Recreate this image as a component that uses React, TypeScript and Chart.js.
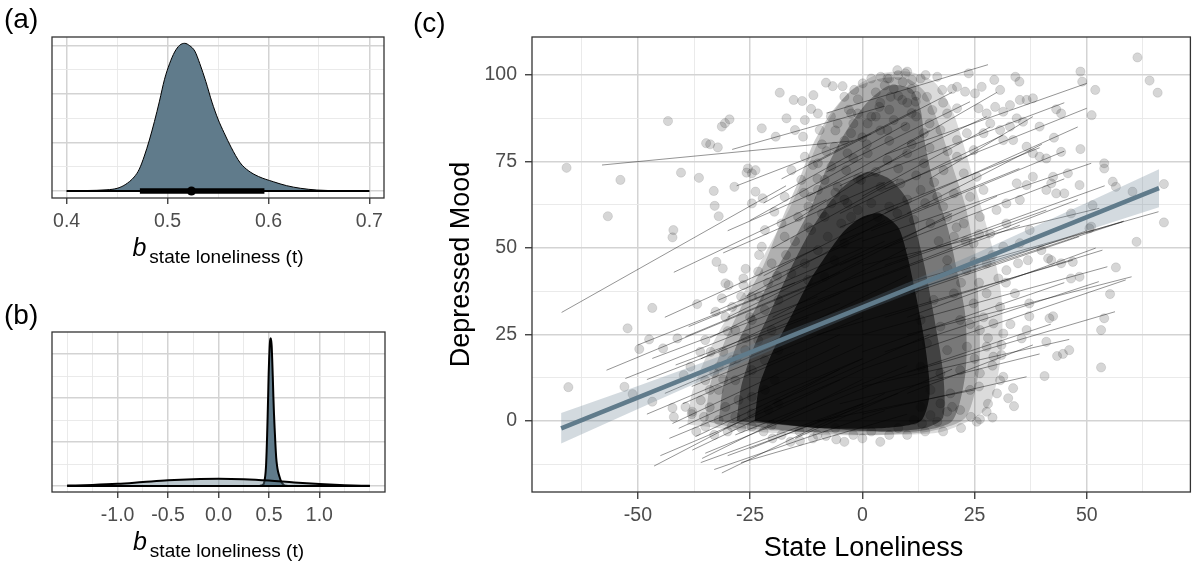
import React, { useEffect, useRef } from "react";
import { Chart, registerables } from "chart.js";

Chart.register(...registerables);

const W = 1196;
const H = 565;
const FONT = "'Liberation Sans', Arial, Helvetica, sans-serif";
const SLATE = "#607B8B";
const SUB = "state loneliness (t)";

// ---------------- Panel (a): posterior of b ----------------
const postX = [0.4, 0.42, 0.44, 0.45, 0.458, 0.467, 0.472, 0.477, 0.482, 0.487, 0.492, 0.497, 0.502, 0.507, 0.512, 0.517, 0.522, 0.527, 0.532, 0.538, 0.544, 0.55, 0.556, 0.563, 0.572, 0.58, 0.59, 0.605, 0.618, 0.632, 0.648, 0.67, 0.7];
const postY = [0, 0.01, 0.025, 0.055, 0.13, 0.29, 0.45, 0.72, 1.05, 1.43, 1.85, 2.3, 2.62, 2.86, 3.0, 3.04, 2.99, 2.88, 2.62, 2.25, 1.83, 1.48, 1.2, 0.9, 0.58, 0.42, 0.3, 0.19, 0.11, 0.055, 0.02, 0.006, 0];
const intervalThin = [0.4, 0.7];
const intervalThick = [0.4726, 0.596];
const pointEstimate = 0.5237;
const aMajorX = [0.4, 0.5, 0.6, 0.7];
const aMinorX = [0.45, 0.55, 0.65];
const aMajorY = [0, 1, 2, 3];
const aMinorY = [0.5, 1.5, 2.5];

// ---------------- Panel (b): prior vs posterior ----------------
const priorX = [-1.5, -1.25, -1.0, -0.75, -0.5, -0.25, 0, 0.25, 0.5, 0.75, 1.0, 1.25, 1.5];
const priorY = [0.02, 0.05, 0.1, 0.18, 0.26, 0.31, 0.33, 0.31, 0.25, 0.16, 0.09, 0.04, 0.01];
const spikeX = [0.4, 0.42, 0.44, 0.45, 0.458, 0.467, 0.472, 0.477, 0.482, 0.487, 0.492, 0.497, 0.502, 0.507, 0.512, 0.517, 0.522, 0.527, 0.532, 0.538, 0.544, 0.55, 0.556, 0.563, 0.572, 0.58, 0.59, 0.605, 0.618, 0.632, 0.648, 0.67, 0.7];
const spikeY = [0, 0.022, 0.055, 0.12, 0.29, 0.64, 0.99, 1.59, 2.32, 3.16, 4.09, 5.08, 5.79, 6.32, 6.63, 6.72, 6.61, 6.36, 5.79, 4.97, 4.04, 3.27, 2.65, 1.99, 1.28, 0.93, 0.66, 0.42, 0.24, 0.12, 0.044, 0.013, 0];
const priorBase = [-1.5, 1.5];
const bMajorX = [-1.0, -0.5, 0, 0.5, 1.0];
const bMinorX = [-1.5, -1.25, -0.75, -0.25, 0.25, 0.75, 1.25, 1.5];
const bMajorY = [0, 2, 4, 6];
const bMinorY = [1, 3, 5];

// ---------------- Panel (c): scatter ----------------
const cMajorX = [-50, -25, 0, 25, 50];
const cMinorX = [-62.5, -37.5, -12.5, 12.5, 37.5, 62.5];
const cMajorY = [0, 25, 50, 75, 100];
const cMinorY = [-12.5, 12.5, 37.5, 62.5, 87.5];

// observed points (person-centred state loneliness, depressed mood)
const ptX = [
  -65.9, -53.9, -56.7, -43.3, -42.1, -42.3, -40.4, -36.4, -34.8, -33.9, -32.2, -33.1, -32.9, -32.0, -31.3, -30.6, -29.6, -32.5, -31.1, -28.5,
  -25.5, -23.8, -25.8, -23.8, -22.2, -24.6, -22.4, -18.4, -19.3, -16.9, -15.3, -13.4, -10.9, -8.1, -6.6, -4.4, -11.4, -9.9, -12.8, -15.0,
  -13.2, -9.5, -19.6, -18.0, -21.7, -20.2, -22.4, -23.2, -26.5, -30.5, -13.6, -9.9, -12.8, -15.8, -11.4, -17.3, -17.3, -14.3, -24.6,
  -46.8, -52.3, -47.5, -49.7, -41.2, -44.4, -36.8, -53.0, -51.2, -46.8, -42.3, -42.0, -13.9, -8.1, -5.8, -32.7, -31.3, -29.8, -26.5, -24.6,
  -35.0, -33.8, -36.1, -38.3, -39.8, -39.4, -37.9, -35.3, -35.0, -65.5,
  -30.5, -28.3, -24.6, -21.7, -18.7, -20.2, -23.2, -26.1, -29.1, -32.0, -35.0, -32.0, -28.3, -24.6, -21.7, -18.7, -30.5, -27.6, -24.6, -21.7,
  -19.5, -32.0, -28.3, -24.6, -20.9, -18.7, -29.1, -24.6, -20.2,
  -4.0, -2.5, -5.5, -2.5, -6.2, -3.3, -6.9, -3.6, -5.5, -8.4, -9.9, -6.9, -3.3, -8.4, -4.7, -2.5, -11.4, -7.7, -4.0, -9.9, -6.2, -12.8, -15.8, -12.1, -8.4,
  0.1, 4.1, 5.6, 7.8, 9.6, 11.1, 14.1, 16.7, 17.8, 14.4, 11.9, 6.3, 8.9, 3.8, -1.8, -1.0, 1.2, 15.6, 18.9, 21.1, 5.6, 9.6, 13.7, 17.4, 21.1,
  23.3, 24.8, 21.1, 1.2, 5.6, 10.0, 13.7, 18.1, 22.6, 25.5, -0.3, 4.1, 8.5, 13.0, 16.7, 20.4, 24.0, 27.0, -1.0, 3.4, 7.8, 11.5, 15.2, 18.9,
  22.6, 26.2, 29.9, 32.1, 20.4, 24.8, 28.5, 31.4, 35.1, 27.7, 23.2, 18.9,
  61.3, 64.0, 65.8, 48.6, 49.0, 51.9, 51.1, 43.2, 44.3, 42.7, 44.3, 48.6, 39.5, 38.0, 36.6, 35.1, 34.1, 35.0, 29.4, 30.7, 26.6, 25.1, 23.7,
  21.1, 22.9, 25.9, 27.7, 29.6, 31.4, 32.9, 34.4, 35.8, 32.9, 30.7, 28.5, 27.0, 31.4, 33.6, 36.6, 38.0, 39.5, 41.0, 53.9, 53.9, 55.8, 56.5,
  67.2, 67.2, 61.1, 56.5, 51.0, 46.5, 44.3, 46.5, 48.4, 41.4, 37.3, 39.9, 36.9, 34.7, 32.1, 30.3, 38.0, 41.0, 43.2, 45.0, 42.5, 48.4, 45.8,
  34.4, 36.6, 32.1, 35.1, 60.2, 42.1, 51.3, 50.6, 42.1, 46.9,
  55.2, 53.9, 53.2, 53.2, 41.7, 42.5, 41.0, 43.4, 44.7, 46.1, 40.6, 37.2, 37.2, 36.6, 35.5, 33.6, 32.5, 33.8, 30.7, 27.7, 24.2, 25.5, 26.2,
  16.7, 15.2, 13.3, 34.0, 29.2, 31.4, 29.2, 31.0, 31.4, 18.9, 20.0,
  11.5, 15.9, 20.4, 24.8, 27.7, 30.7, 13.0, 17.4, 21.8, 26.2, 14.4, 18.9, 23.3, 27.7, 13.0, 17.4, 21.8, 26.2, 15.2, 19.6, 24.0, 13.0, 17.4,
  21.8, 11.5,
  3, 5, 7, 9, 11, 4, 6, 8, 10, 12, 6, 8, 10, 3, 7, 11, 13, 2,
  -12, -10, -8, -6, -3, -1, -13, -11, -9, -7, -4, -2, -1, -6, -9, -4, 0, -2,
  2, 6, 10, 14, 18, 3, 8, 12, 16, 1, 6, 11, 15, 19, 2, 15, 18, 20, 12, 4,
  -38, -36, -34, -33, -31, -30, -29, -27, -26, -23, -21, -37, -33, -30, -27, -34, -31, -28, -26, -25, -23, -19, -17, -15, -12,
  28, 30, 29, 28, 27, 26, 25, 23, 21, 17, 19, 22, 24, 25, 26, 22, 18, 14, 10, 29, 31, 33, 32, 29, 26,
  -22, -18, -14, -10, -6, -2, 2, 6, -16, -11, -4, 0, 4, -20, 8
];
const ptY = [
  73.2, 69.7, 59.2, 86.7, 55.2, 53.1, 71.8, 70.3, 80.3, 80.0, 79.1, 66.5, 62.2, 59.2, 85.1, 86.1, 87.2, 46.0, 44.1, 67.7,
  73.0, 72.5, 71.8, 66.3, 64.4, 62.9, 84.6, 94.9, 82.2, 87.5, 92.8, 92.5, 94.2, 97.8, 96.8, 96.8, 90.2, 88.9, 87.0, 84.1,
  82.2, 84.1, 60.5, 57.1, 55.2, 45.6, 50.4, 43.2, 41.2, 39.8, 69.7, 74.5, 76.4, 72.5, 64.8, 64.8, 53.3, 59.0, 71.6,
  32.7, 26.8, 23.6, 20.8, 23.9, 21.0, 33.8, 9.9, 7.8, 5.6, 3.8, 1.2, -5.7, -4.3, -5.3, 31.6, 35.5, 39.3, 39.3, 35.9,
  23.4, 20.0, 20.0, 15.7, 13.3, 4.1, 2.7, 1.2, -1.6, 9.8,
  30.1, 26.3, 29.2, 32.1, 35.0, 26.3, 23.4, 20.5, 17.6, 15.7, 11.8, 9.0, 11.8, 14.7, 17.6, 20.5, 4.1, 6.1, 7.0, 9.0,
  11.8, 0.3, 1.2, 2.2, 3.2, 5.1, -1.6, -1.6, -1.2,
  93.7, 88.9, 86.0, 83.2, 79.3, 77.4, 73.5, 72.5, 67.7, 69.7, 66.8, 62.9, 62.9, 59.0, 57.1, 59.0, 55.2, 53.3, 51.4, 49.4, 46.5, 45.6, 42.7, 40.8, 41.7,
  97.6, 99.5, 99.0, 101.4, 100.5, 98.6, 100.0, 99.5, 95.7, 93.7, 92.3, 93.7, 92.8, 90.8, 95.7, 88.9, 86.0, 89.9, 88.9, 90.4, 84.1, 85.1, 83.2, 84.1, 81.2,
  83.2, 78.3, 76.4, 77.4, 75.4, 77.4, 74.5, 72.5, 71.6, 70.6, 69.7, 67.7, 68.7, 66.8, 64.8, 65.8, 64.8, 66.8, 61.0, 59.0, 60.0, 58.1, 57.1, 59.0,
  57.1, 59.0, 61.0, 57.1, 53.3, 51.4, 54.2, 50.4, 51.4, 45.6, 43.6, 46.5,
  105.1, 98.4, 94.9, 101.0, 98.1, 95.7, 88.4, 90.1, 88.9, 81.9, 77.8, 78.6, 85.1, 93.3, 92.8, 92.8, 99.5, 98.1, 98.6, 95.7, 96.6, 94.7, 100.5,
  96.6, 95.2, 90.4, 88.9, 90.8, 89.4, 91.3, 87.5, 86.5, 85.1, 84.1, 86.0, 83.2, 81.2, 81.2, 79.3, 77.4, 76.4, 75.9, 74.5, 73.0, 69.2, 67.7,
  68.5, 57.4, 51.8, 44.4, 56.2, 60.0, 45.6, 41.2, 41.7, 47.0, 55.2, 49.4, 46.5, 45.6, 43.6, 41.2, 70.6, 66.8, 65.8, 65.8, 70.6, 68.2, 71.6,
  68.7, 68.2, 62.9, 63.9, 66.3, 68.7, 62.4, 55.7, 46.5, 46.0,
  36.7, 29.7, 26.3, 15.5, 29.7, 30.3, 22.9, 18.8, 19.4, 20.5, 13.0, 30.3, 34.0, 26.3, 23.9, 9.5, 6.6, 4.3, 11.8, 2.7, 1.2, -0.2, 0.5,
  -0.2, 1.7, -0.7, 36.9, 28.2, 25.3, 18.6, 19.1, 12.8, 2.7, 4.1,
  37.9, 35.0, 36.9, 34.0, 36.9, 33.0, 29.2, 27.3, 29.2, 26.3, 22.5, 20.5, 21.5, 21.5, 15.7, 13.8, 14.7, 13.8, 9.0, 8.0, 9.0, 4.1, 5.1,
  3.2, 0.3,
  95, 97, 96, 98, 96, 92, 90, 94, 92, 94, 99, 100, 101, 88, 87, 89, 99, 99,
  62, 70, 78, 84, 90, 93, 66, 74, 80, 88, 81, 76, 70, 66, 60, 64, 82, 86,
  63, 62, 64, 63, 62, 72, 73, 71, 69, 80, 81, 80, 79, 78, 88, 86, 92, 96, 88, 84,
  2, 6, 4, 14, 20, 26, 33, 36, 44, 48, 40, -3, -4, -3, -2, 9, 12, 18, 24, 30, 36, 42, 48, 52, 56,
  5, 8, 16, 24, 30, 40, 46, 52, 56, 52, 44, 40, 28, 18, 10, -2, -3, -3, -4, 1, 22, 28, 40, 48, 54,
  -3, -4, -3, -4, -2, -4, -3, -4, -6, -5, -6, -5, -6, -5, -2
];

const cloud1X = [-39, -38, -35, -31, -26, -21, -16, -12, -8, -3, 3, 10, 16, 20, 23, 26, 29, 31, 31, 28, 18, 5, -10, -25, -39];
const cloud1Y = [-1, 8, 18, 28, 38, 50, 62, 74, 86, 95, 100, 101, 98, 90, 78, 64, 50, 36, 20, 4, -3, -4, -4, -3, -1];
const cloud2X = [-35, -34, -31, -27, -22, -18, -14, -11, -7, -2, 4, 10, 14, 17, 20, 23, 25, 26, 26, 23, 15, 0, -15, -28, -35];
const cloud2Y = [0, 10, 22, 33, 45, 58, 70, 80, 89, 96, 99, 99, 95, 86, 74, 62, 48, 32, 15, 1, -3, -4, -3, -2, 0];
const cloud3X = [-32, -31, -28, -24, -20, -15, -11, -8, -4, 1, 6, 11, 13, 14, 16, 19, 21, 23, 23, 20, 12, 0, -15, -32];
const cloud3Y = [0, 10, 22, 32, 42, 53, 63, 73, 83, 92, 97, 96, 90, 80, 68, 56, 44, 30, 14, 0, -3, -3, -3, 0];
const cloud4X = [-28, -27, -24, -20, -16, -12, -8, -4, 1, 6, 10, 12, 14, 16, 18, 18, 14, 5, -10, -28];
const cloud4Y = [0, 10, 22, 33, 44, 54, 62, 68, 72, 70, 64, 55, 44, 30, 14, 1, -2, -3, -2, 0];
const cloud5X = [-24, -23, -20, -16, -12, -8, -4, 0, 4, 8, 10, 12, 14, 15, 13, 5, -10, -24];
const cloud5Y = [0, 10, 20, 30, 40, 48, 55, 59, 60, 56, 48, 36, 22, 8, 0, -2, -2, 0];

// person-specific regression lines (start x, start y, end x, end y)
const lnX1 = [-58, -29, -28, -67, -42, -31, -8, 5, 5, -5, 0, -5, 5, 10, 8, 0, 5, 0, 10, 5, 10, 0, -5, 0, -10, 0, -57, -52.8, -46.4, -31.3, -35.7, -37.9, -42.3, -46.8, -39.4, -38.7, -33.9, -32, -41.6, -40.9, -37.2, -35, -28.3, -22, -18, -10, -5, 0, -5, -10, -8, -5, -5, 0, -10, -20, -25, -20, -15, -25, -48, -44,
  -45, -43, -40, -38, -36, -33, -30, -27, -44, -48, -50, -36, -34, -30, -26, -22, -20, -15, -12, -10, -30, -25,
  0, 5, 2, 5, 0, 5, 10, 0, 5, 10, -5, 10, 15, 10];
const lnY1 = [74, 78.5, 68, 31.4, 43, 48.6, 89, 77, 67, 56, 52, 52, 45, 40, 38, 33, 30, 25, 25, 20, 14, 10, 5, 2, 0, 15, 14.7, 12.3, -13, -15, -10.8, -8.4, -0.7, 18.1, 24.4, 27.3, 31.1, 35, 16.2, -2.1, -4.5, -9.3, -4, 63, 70, 35, 40, 45, 30, 25, 72, 68, 60, 65, 40, 30, 20, 5, -5, -8, 2, 30,
  -10, -5, 5, 10, -12, -14, -10, -12, 8, 12, 22, 18, 24, 30, 36, 42, 50, 58, 65, 75, 55, 58,
  70, 60, 55, 50, 40, 35, 30, 20, 12, 8, 45, 60, 70, 80];
const lnX2 = [-2, 5, 2, -17, -8, 5, 28, 50, 50, 39.5, 51, 35, 54, 66, 58.3, 58, 53.5, 54.6, 60, 52.7, 56.3, 46.1, 39.5, 36.6, 25, 58.7, -10, -5, -5, 5, 0, 0, -5, -10, -5, 0, 0, 0, -5, 0, 0, 5, 10, 10, 12, 35.1, 41, 52.8, 48.3, 46.9, 24, 27.7, 31.4, 28.5, 20, 10, 10, 15, 20, 0, -15, -10,
  -5, 0, -5, 0, 0, 5, 8, 10, -8, -12, -15, 0, 0, 5, 5, 8, 8, 10, 15, 20, 0, 0,
  45, 48, 45, 45, 48, 50, 52, 45, 42, 38, 30, 40, 38, 30];
const lnY2 = [81, 91, 83, 68, 64, 69, 103, 97.6, 90.4, 79, 74.5, 73, 68, 60.5, 57.8, 57.6, 49.4, 44.6, 41.7, 40.3, 31.6, 23.6, 19.4, 12.8, 9, 40.8, 40, 37, 15, 8, 12, 15, 22, 36, 43, 48, 50, 53, 34, 22, 18, 12, 16, 86, 90, 56.6, 61, 61.5, 53.3, 46.5, 92.3, 88, 82.7, 85, 60, 50, 42, 25, 15, 5, 20, 50,
  12, 18, 25, 30, 5, 3, 8, 2, 28, 30, 40, 40, 46, 52, 58, 62, 70, 78, 84, 95, 72, 76,
  92, 85, 78, 70, 64, 55, 50, 40, 28, 22, 65, 80, 88, 95];

// population-level regression line with its uncertainty ribbon
const popX = [-67.1, 66.1];
const popY = [-2.1, 67.3];
const ribbonX = [-67.1, -50, -25, 0, 25, 50, 66.1];
const ribbonUpper = [2.3, 10.1, 21.9, 34.4, 48.3, 63.1, 72.8];
const ribbonLower = [-6.5, 3.5, 17.9, 31.6, 43.9, 55.1, 61.8];

// ---------------- helpers ----------------
const xy = (xs: number[], ys: number[]) => xs.map((x, i) => ({ x, y: ys[i] }));

function axisOpts(min: number, max: number, major: number[], minor: number[], fmt: (v: number) => string, o: any) {
  const all = [...major, ...minor].sort((a, b) => a - b);
  const isMajor = (v: any) => typeof v === "number" && major.some((m) => Math.abs(m - v) < 1e-9);
  return {
    type: "linear",
    min,
    max,
    afterBuildTicks: (s: any) => {
      s.ticks = all.map((v) => ({ value: v }));
    },
    afterFit: (s: any) => {
      if (o.w !== undefined) s.width = o.w;
      if (o.h !== undefined) s.height = o.h;
    },
    border: { display: false },
    grid: {
      color: (c: any) => (isMajor(c.tick && c.tick.value) ? "#d3d3d3" : "#e8e8e8"),
      lineWidth: (c: any) => (isMajor(c.tick && c.tick.value) ? 1.5 : 0.9),
      drawTicks: !!o.show,
      tickLength: o.tickLen || 0,
      tickWidth: 1.3,
      tickColor: (c: any) => (o.show && isMajor(c.tick && c.tick.value) ? "#333333" : "rgba(0,0,0,0)"),
    },
    ticks: {
      display: !!o.show,
      autoSkip: false,
      maxRotation: 0,
      minRotation: 0,
      padding: o.pad || 0,
      color: "#4D4D4D",
      font: { family: FONT, size: 19.5 },
      callback: (v: any) => (isMajor(v) ? fmt(v) : ""),
    },
  };
}

type TextItem =
  | { kind: "text"; text: string; x: number; y: number; size: number; align?: CanvasTextAlign; rotate?: boolean }
  | { kind: "bsub"; cx: number; y: number; ySub: number };

function framePlugin(texts: TextItem[]) {
  return {
    id: "frameText",
    afterDatasetsDraw(chart: any) {
      const { ctx, chartArea: a } = chart;
      ctx.save();
      ctx.strokeStyle = "#333333";
      ctx.lineWidth = 1.3;
      ctx.strokeRect(a.left, a.top, a.right - a.left, a.bottom - a.top);
      ctx.restore();
    },
    afterDraw(chart: any) {
      const ctx = chart.ctx as CanvasRenderingContext2D;
      ctx.save();
      ctx.textBaseline = "alphabetic";
      ctx.fillStyle = "#000000";
      for (const t of texts) {
        if (t.kind === "text") {
          ctx.font = `${t.size}px ${FONT}`;
          ctx.textAlign = t.align || "left";
          if (t.rotate) {
            ctx.save();
            ctx.translate(t.x, t.y);
            ctx.rotate(-Math.PI / 2);
            ctx.fillText(t.text, 0, 0);
            ctx.restore();
          } else {
            ctx.fillText(t.text, t.x, t.y);
          }
        } else {
          const bFont = `italic 25px ${FONT}`;
          const sFont = `19px ${FONT}`;
          ctx.font = bFont;
          const bw = ctx.measureText("b").width;
          ctx.font = sFont;
          const sw = ctx.measureText(SUB).width;
          const gap = 3;
          const x0 = t.cx - (bw + gap + sw) / 2;
          ctx.textAlign = "left";
          ctx.font = bFont;
          ctx.fillText("b", x0, t.y);
          ctx.font = sFont;
          ctx.fillText(SUB, x0 + bw + gap, t.ySub);
        }
      }
      ctx.restore();
    },
  };
}

const baseOptions = (padding: any, scales: any) => ({
  responsive: false,
  animation: false,
  events: [],
  layout: { padding },
  elements: { point: { radius: 0 }, line: { tension: 0 } },
  plugins: { legend: { display: false }, tooltip: { enabled: false } },
  scales,
});

function configA(): any {
  return {
    type: "scatter",
    data: {
      datasets: [
        { type: "line", data: xy(postX, postY), borderColor: "#000", borderWidth: 1, backgroundColor: SLATE, fill: "origin", pointRadius: 0, cubicInterpolationMode: "monotone", order: 5 },
        { type: "line", data: xy(intervalThin, [0, 0]), borderColor: "#000", borderWidth: 2, pointRadius: 0, fill: false, order: 4 },
        { type: "line", data: xy(intervalThick, [0, 0]), borderColor: "#000", borderWidth: 5.5, borderCapStyle: "butt", pointRadius: 0, fill: false, order: 3 },
        { type: "scatter", data: xy([pointEstimate], [0]), pointRadius: 4.5, backgroundColor: "#000", borderWidth: 0, order: 1 },
      ],
    },
    options: baseOptions(
      { left: 52, top: 37, right: W - 384, bottom: 0 },
      {
        x: axisOpts(0.3855, 0.7145, aMajorX, aMinorX, (v) => v.toFixed(1), { h: H - 198, show: true, tickLen: 6, pad: 6 }),
        y: axisOpts(-0.144, 3.17, aMajorY, aMinorY, () => "", { w: 0, show: false }),
      }
    ),
    plugins: [
      framePlugin([
        { kind: "text", text: "(a)", x: 4, y: 28, size: 28 },
        { kind: "bsub", cx: 218, y: 256, ySub: 263 },
      ]),
    ],
  };
}

function configB(): any {
  return {
    type: "scatter",
    data: {
      datasets: [
        { type: "line", data: xy(priorX, priorY), borderColor: "#000", borderWidth: 2, backgroundColor: "rgba(96,123,139,0.42)", fill: "origin", pointRadius: 0, cubicInterpolationMode: "monotone", order: 3 },
        { type: "line", data: xy(spikeX, spikeY), borderColor: "#000", borderWidth: 2, backgroundColor: SLATE, fill: "origin", pointRadius: 0, cubicInterpolationMode: "monotone", order: 5 },
        { type: "line", data: xy(priorBase, [0, 0]), borderColor: "#000", borderWidth: 2, pointRadius: 0, fill: false, order: 2 },
      ],
    },
    options: baseOptions(
      { left: 52, top: 332, right: W - 385, bottom: 0 },
      {
        x: axisOpts(-1.65, 1.65, bMajorX, bMinorX, (v) => v.toFixed(1), { h: H - 492, show: true, tickLen: 6, pad: 6 }),
        y: axisOpts(-0.27, 7.0, bMajorY, bMinorY, () => "", { w: 0, show: false }),
      }
    ),
    plugins: [
      framePlugin([
        { kind: "text", text: "(b)", x: 4, y: 324, size: 28 },
        { kind: "bsub", cx: 218.5, y: 550, ySub: 557 },
      ]),
    ],
  };
}

function configC(): any {
  const cloud = (xs: number[], ys: number[], a: number, order: number) => ({
    type: "line", data: xy(xs, ys), borderWidth: 0, borderColor: "rgba(0,0,0,0)", backgroundColor: `rgba(0,0,0,${a})`, fill: "shape", tension: 0.25, pointRadius: 0, order,
  });
  const lines = lnX1.map((x1, i) => ({
    type: "line", data: xy([x1, lnX2[i]], [lnY1[i], lnY2[i]]), borderColor: "rgba(0,0,0,0.42)", borderWidth: 1, pointRadius: 0, fill: false, order: 40,
  }));
  const ribbonPoly = xy([...ribbonX, ...ribbonX.slice().reverse()], [...ribbonUpper, ...ribbonLower.slice().reverse()]);
  return {
    type: "scatter",
    data: {
      datasets: [
        cloud(cloud1X, cloud1Y, 0.14, 105),
        cloud(cloud2X, cloud2Y, 0.2, 104),
        cloud(cloud3X, cloud3Y, 0.32, 103),
        cloud(cloud4X, cloud4Y, 0.45, 102),
        cloud(cloud5X, cloud5Y, 0.72, 101),
        { type: "scatter", data: xy(ptX, ptY), pointRadius: 4.6, backgroundColor: "rgba(0,0,0,0.16)", borderColor: "rgba(0,0,0,0.1)", borderWidth: 1, order: 50 },
        ...lines,
        { type: "line", data: ribbonPoly, borderWidth: 0, borderColor: "rgba(0,0,0,0)", backgroundColor: "rgba(96,123,139,0.28)", fill: "shape", pointRadius: 0, order: 20 },
        { type: "line", data: xy(popX, popY), borderColor: SLATE, borderWidth: 4.5, pointRadius: 0, fill: false, order: 10 },
      ],
    },
    options: baseOptions(
      { left: 0, top: 37, right: 1, bottom: 0 },
      {
        x: axisOpts(-73.6, 73.1, cMajorX, cMinorX, (v) => String(v), { h: H - 492, show: true, tickLen: 7, pad: 5 }),
        y: axisOpts(-20.5, 111, cMajorY, cMinorY, (v) => String(v), { w: 532, show: true, tickLen: 7, pad: 8 }),
      }
    ),
    plugins: [
      framePlugin([
        { kind: "text", text: "(c)", x: 413, y: 32, size: 28 },
        { kind: "text", text: "State Loneliness", x: 863.5, y: 556, size: 27, align: "center" },
        { kind: "text", text: "Depressed Mood", x: 469, y: 264.5, size: 27, align: "center", rotate: true },
      ]),
    ],
  };
}

export default function App() {
  const ra = useRef<HTMLCanvasElement>(null);
  const rb = useRef<HTMLCanvasElement>(null);
  const rc = useRef<HTMLCanvasElement>(null);

  useEffect(() => {
    const charts = [
      new Chart(rc.current as HTMLCanvasElement, configC()),
      new Chart(ra.current as HTMLCanvasElement, configA()),
      new Chart(rb.current as HTMLCanvasElement, configB()),
    ];
    return () => charts.forEach((c) => c.destroy());
  }, []);

  const cs: React.CSSProperties = { position: "absolute", left: 0, top: 0, width: W, height: H };
  return (
    <div style={{ position: "absolute", left: 0, top: 0, width: W, height: H, background: "#ffffff", overflow: "hidden" }}>
      <canvas ref={rc} width={W} height={H} style={cs} />
      <canvas ref={ra} width={W} height={H} style={cs} />
      <canvas ref={rb} width={W} height={H} style={cs} />
    </div>
  );
}
